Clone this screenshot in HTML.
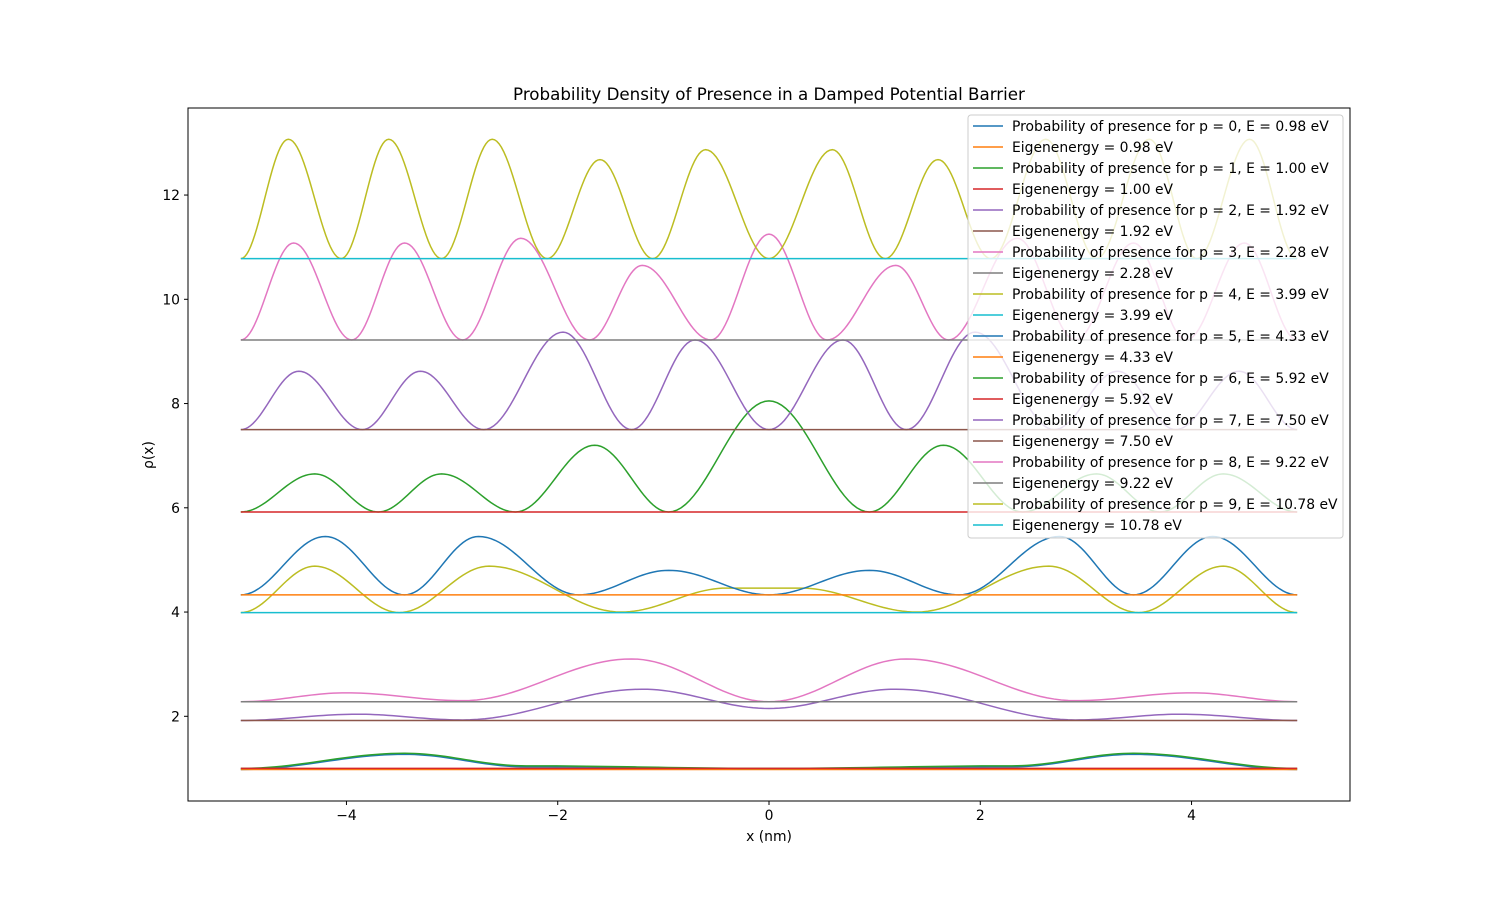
<!DOCTYPE html>
<html><head><meta charset="utf-8"><style>
body{margin:0;background:#fff;}
svg{display:block;font-family:"DejaVu Sans","Liberation Sans",sans-serif;}
</style></head><body>
<svg id="chart" width="1500" height="900" xmlns="http://www.w3.org/2000/svg"></svg>
<script>
const energies=[0.98,1.00,1.92,2.28,3.99,4.33,5.92,7.50,9.22,10.78];
const xs0=[-5,-3.45,-2.3,0,2.3,3.45,5];
const ys0=[0.98,1.27,1.03,0.99,1.03,1.27,0.98];
const xs1=[-5,-3.45,-2.3,0,2.3,3.45,5];
const ys1=[1.00,1.29,1.05,1.00,1.05,1.29,1.00];
const xs2=[-5,-3.9,-2.9,-1.2,0,1.2,2.9,3.9,5];
const ys2=[1.92,2.04,1.93,2.52,2.15,2.52,1.93,2.04,1.92];
const xs3=[-5,-4,-2.9,-1.3,0,1.3,2.9,4,5];
const ys3=[2.28,2.45,2.3,3.1,2.28,3.1,2.3,2.45,2.28];
const xs4=[-5,-4.3,-3.5,-2.65,-1.4,-0.4,0.3,1.4,2.65,3.5,4.3,5];
const ys4=[3.99,4.88,3.99,4.88,4.0,4.46,4.46,4.0,4.88,3.99,4.88,3.99];
const xs5=[-5,-4.2,-3.45,-2.75,-1.8,-0.95,0,0.95,1.8,2.75,3.45,4.2,5];
const ys5=[4.33,5.45,4.33,5.45,4.33,4.8,4.33,4.8,4.33,5.45,4.33,5.45,4.33];
const xs6=[-5,-4.3,-3.7,-3.1,-2.4,-1.65,-0.95,0,0.95,1.65,2.4,3.1,3.7,4.3,5];
const ys6=[5.92,6.65,5.92,6.65,5.92,7.2,5.92,8.05,5.92,7.2,5.92,6.65,5.92,6.65,5.92];
const xs7=[-5,-4.45,-3.85,-3.3,-2.7,-1.95,-1.3,-0.7,0,0.7,1.3,1.95,2.7,3.3,3.85,4.45,5];
const ys7=[7.5,8.62,7.5,8.62,7.5,9.37,7.5,9.22,7.5,9.22,7.5,9.37,7.5,8.62,7.5,8.62,7.5];
const xs8=[-5,-4.5,-3.95,-3.45,-2.9,-2.35,-1.7,-1.2,-0.55,0,0.55,1.2,1.7,2.35,2.9,3.45,3.95,4.5,5];
const ys8=[9.22,11.08,9.22,11.08,9.22,11.17,9.22,10.65,9.22,11.25,9.22,10.65,9.22,11.17,9.22,11.08,9.22,11.08,9.22];
const xs9=[-5,-4.55,-4.05,-3.6,-3.1,-2.62,-2.1,-1.6,-1.1,-0.6,0,0.6,1.1,1.6,2.1,2.62,3.1,3.6,4.05,4.55,5];
const ys9=[10.78,13.07,10.78,13.07,10.78,13.07,10.78,12.68,10.78,12.87,10.78,12.87,10.78,12.68,10.78,13.07,10.78,13.07,10.78,13.07,10.78];
const xTicks=[-4,-2,0,2,4];
const xTickLabels=["−4","−2","0","2","4"];
const yTicks=[2,4,6,8,10,12];
const yTickLabels=["2","4","6","8","10","12"];

const NS="http://www.w3.org/2000/svg";
const svg=document.getElementById('chart');
const L=188,R=1350,T=108,B=801;
const xMin=-5.5,xMax=5.5,yMin=0.375,yMax=13.67;
const X=v=>L+(v-xMin)/(xMax-xMin)*(R-L);
const Y=v=>B-(v-yMin)/(yMax-yMin)*(B-T);
const colors=["#1f77b4","#ff7f0e","#2ca02c","#d62728","#9467bd","#8c564b","#e377c2","#7f7f7f","#bcbd22","#17becf"];
function mk(tag,attrs,parent){const e=document.createElementNS(NS,tag);for(const k in attrs)e.setAttribute(k,attrs[k]);(parent||svg).appendChild(e);return e;}

const clip=mk('clipPath',{id:'clip'});mk('rect',{x:L,y:T,width:R-L,height:B-T},clip);
const g=mk('g',{'clip-path':'url(#clip)'});


const XS=[xs0,xs1,xs2,xs3,xs4,xs5,xs6,xs7,xs8,xs9];
const YS=[ys0,ys1,ys2,ys3,ys4,ys5,ys6,ys7,ys8,ys9];
for(let p=0;p<10;p++){
  const xa=XS[p],ya=YS[p];let d='';
  for(let i=0;i<xa.length-1;i++){
    for(let k=0;k<=24;k++){const t=k/24;const xv=xa[i]+(xa[i+1]-xa[i])*t;const yv=ya[i]+(ya[i+1]-ya[i])*(1-Math.cos(Math.PI*t))/2;
      d+=(d?'L':'M')+X(xv).toFixed(2)+' '+Y(yv).toFixed(2);}
  }
  const c=mk('path',{d:d,fill:'none',stroke:colors[(2*p)%10],'stroke-width':1.5},g);
  
  
  const e=mk('line',{x1:X(-5),x2:X(5),y1:Y(energies[p]),y2:Y(energies[p]),stroke:colors[(2*p+1)%10],'stroke-width':1.5},g);
  
  
}
const frame=mk('rect',{x:L,y:T,width:R-L,height:B-T,fill:'none',stroke:'#000','stroke-width':1});


xTicks.forEach((v,i)=>{mk('line',{x1:X(v),x2:X(v),y1:B,y2:B+4,stroke:'#000'});
  const t=mk('text',{x:X(v),y:B+19,'text-anchor':'middle','font-size':13.9});t.textContent=xTickLabels[i];
  
  });
yTicks.forEach((v,i)=>{mk('line',{x1:L-4,x2:L,y1:Y(v),y2:Y(v),stroke:'#000'});
  const t=mk('text',{x:L-8,y:Y(v)+5,'text-anchor':'end','font-size':13.9});t.textContent=yTickLabels[i];
  
  });
let t=mk('text',{x:769,y:841,'text-anchor':'middle','font-size':13.9});t.textContent='x (nm)';


t=mk('text',{x:153,y:455,'text-anchor':'middle','font-size':13.9,transform:'rotate(-90 153 455)'});t.textContent='ρ(x)';


t=mk('text',{x:769,y:100,'text-anchor':'middle','font-size':16.7});t.textContent='Probability Density of Presence in a Damped Potential Barrier';


const lg=mk('g',{});


mk('rect',{x:968,y:115,width:375,height:423,rx:3,fill:'rgba(255,255,255,0.8)',stroke:'#ccc'},lg);
for(let p=0;p<10;p++){
  const labels=['Probability of presence for p = '+p+', E = '+energies[p].toFixed(2)+' eV','Eigenenergy = '+energies[p].toFixed(2)+' eV'];
  for(let j=0;j<2;j++){
    const idx=2*p+j;const y=126+21*idx;
    mk('line',{x1:973,x2:1003,y1:y,y2:y,stroke:colors[idx%10],'stroke-width':1.5},lg);
    const tt=mk('text',{x:1012,y:y+5,'font-size':13.9},lg);tt.textContent=labels[j];
    
    
  }
}
</script>
</body></html>
